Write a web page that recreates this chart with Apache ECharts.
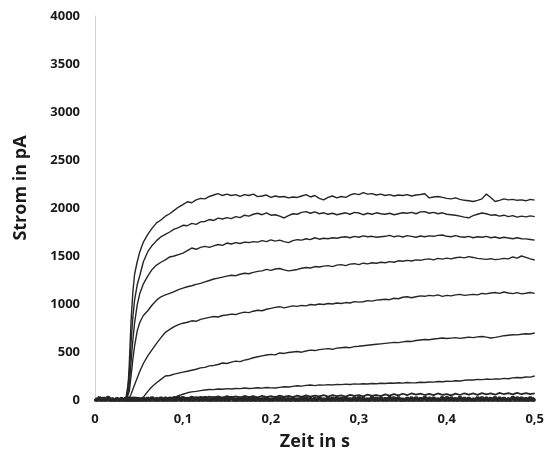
<!DOCTYPE html>
<html>
<head>
<meta charset="utf-8">
<script src="https://cdn.jsdelivr.net/npm/echarts@6/dist/echarts.min.js"></script>
<style>
  html, body { margin: 0; padding: 0; background: #fff; }
  #chart { width: 547px; height: 463px; }
</style>
</head>
<body>
<div id="chart"></div>
<script>
// Zeitpunkte (s)
var zeit = [
  0, 0.005, 0.01, 0.015, 0.02, 0.025, 0.03, 0.035, 0.037, 0.039,
  0.041, 0.043, 0.045, 0.048, 0.051, 0.055, 0.06, 0.065, 0.07, 0.075,
  0.08, 0.085, 0.09, 0.095, 0.1, 0.105, 0.11, 0.115, 0.12, 0.125,
  0.13, 0.135, 0.14, 0.145, 0.15, 0.155, 0.16, 0.165, 0.17, 0.175,
  0.18, 0.185, 0.19, 0.195, 0.2, 0.205, 0.21, 0.215, 0.22, 0.225,
  0.23, 0.235, 0.24, 0.245, 0.25, 0.255, 0.26, 0.265, 0.27, 0.275,
  0.28, 0.285, 0.29, 0.295, 0.3, 0.305, 0.31, 0.315, 0.32, 0.325,
  0.33, 0.335, 0.34, 0.345, 0.35, 0.355, 0.36, 0.365, 0.37, 0.375,
  0.38, 0.385, 0.39, 0.395, 0.4, 0.405, 0.41, 0.415, 0.42, 0.425,
  0.43, 0.435, 0.44, 0.445, 0.45, 0.455, 0.46, 0.465, 0.47, 0.475,
  0.48, 0.485, 0.49, 0.495, 0.5
];

// Stromspuren (pA), von oben nach unten
var spur1 = [
  6, -12, 9, -5, 11, -8, 4, -3, 40, 380,
  820, 1120, 1310, 1440, 1545, 1645, 1725, 1790, 1845, 1875,
  1915, 1940, 1975, 2010, 2035, 2065, 2055, 2085, 2100, 2095,
  2120, 2135, 2150, 2130, 2145, 2130, 2140, 2120, 2140, 2130,
  2145, 2118, 2125, 2135, 2110, 2125, 2115, 2120, 2105, 2115,
  2110, 2125, 2140, 2115, 2130, 2100, 2085, 2110, 2125, 2105,
  2120, 2110, 2135, 2150, 2140, 2160, 2145, 2150, 2135, 2145,
  2130, 2140, 2125, 2135, 2130, 2140, 2125, 2135, 2140, 2148,
  2105, 2115, 2120, 2110, 2100, 2095, 2105, 2090, 2080, 2075,
  2068, 2080, 2095, 2145, 2110, 2068, 2080, 2095, 2085, 2090,
  2080, 2085, 2075, 2090, 2082
];
var spur2 = [
  -8, 10, -4, 7, -10, 5, -6, 8, 20, 250,
  600, 860, 1040, 1200, 1300, 1440, 1545, 1610, 1660, 1700,
  1725, 1750, 1780, 1795, 1820, 1815, 1840, 1830, 1855, 1860,
  1880, 1870, 1895, 1885, 1900, 1890, 1910, 1900, 1925, 1915,
  1935, 1945, 1930, 1950, 1925, 1930, 1915, 1896, 1920, 1940,
  1935, 1955, 1962, 1945, 1960, 1940, 1950, 1935, 1945, 1930,
  1940, 1950, 1935, 1955, 1948, 1930, 1945, 1935, 1950, 1940,
  1935, 1945, 1930, 1940, 1950, 1945, 1955, 1940, 1960, 1962,
  1945, 1955, 1940, 1950, 1935, 1930, 1925, 1915, 1905, 1898,
  1920, 1935, 1948, 1940, 1925, 1930, 1915, 1925, 1910, 1920,
  1905, 1915, 1908, 1918, 1910
];
var spur3 = [
  4, -9, 12, -6, 3, -11, 7, -2, 15, 150,
  400, 620, 800, 990, 1110, 1210, 1290, 1360, 1405, 1435,
  1460, 1490, 1500, 1515, 1530, 1555, 1583, 1570, 1590, 1600,
  1590, 1605, 1620, 1610, 1635, 1625, 1640, 1630, 1645, 1640,
  1650, 1645, 1660, 1650, 1668, 1655, 1665, 1650, 1640, 1660,
  1670, 1665, 1680, 1670, 1690, 1675, 1685, 1680, 1690, 1685,
  1695, 1700, 1690, 1705, 1695, 1710, 1700, 1705, 1695, 1700,
  1705, 1715, 1700, 1710, 1698, 1712, 1705, 1695, 1708, 1700,
  1710, 1705, 1715, 1719, 1705, 1700, 1712, 1700, 1695, 1705,
  1690, 1700, 1695, 1705, 1690, 1698, 1685, 1695, 1688, 1680,
  1690, 1680, 1678, 1672, 1665
];
var spur4 = [
  -5, 8, -10, 6, -3, 9, -7, 4, 10, 90,
  250, 420, 560, 720, 810, 880, 930, 990, 1040, 1075,
  1095, 1110, 1130, 1150, 1165, 1180, 1190, 1205, 1215, 1230,
  1245, 1260, 1270, 1280, 1290, 1300, 1295, 1310, 1320, 1315,
  1330, 1340, 1345, 1360, 1350, 1365, 1370, 1355, 1345, 1352,
  1360, 1372, 1380, 1375, 1390, 1385, 1395, 1400, 1390, 1405,
  1410, 1400, 1415, 1420, 1410, 1425, 1418, 1430, 1425, 1435,
  1430, 1441, 1435, 1450, 1445, 1455, 1448, 1460, 1455, 1465,
  1470, 1460, 1475, 1468, 1478, 1470, 1482, 1488, 1480, 1493,
  1485, 1475, 1470, 1465, 1472, 1462, 1468, 1475, 1470, 1490,
  1478, 1500, 1485, 1470, 1458
];
var spur5 = [
  7, -6, 3, -9, 10, -4, 8, -7, 5, 20,
  60, 110, 160, 230, 300, 380, 460, 525, 590, 650,
  705, 735, 765, 785, 800, 810, 825, 820, 840, 850,
  860, 870, 865, 880, 885, 895, 890, 905, 915, 910,
  925, 935, 930, 945, 955, 965, 972, 960, 970, 980,
  975, 985, 980, 995, 990, 1000, 995, 1005, 1000, 1010,
  1005, 1015, 1010, 1025, 1020, 1024, 1035, 1030, 1040, 1045,
  1050, 1045, 1060, 1055, 1070, 1076, 1065, 1075, 1085, 1080,
  1090, 1085, 1095, 1080, 1090, 1085, 1095, 1100, 1090, 1095,
  1100, 1095, 1110, 1105, 1115, 1120, 1110, 1125, 1115, 1108,
  1118, 1105, 1112, 1120, 1111
];
var spur6 = [
  -4, 6, -8, 9, -5, 7, -3, 6, -6, 4,
  -5, 8, -4, 6, 10, 30, 90, 140, 180, 215,
  250, 255, 270, 280, 290, 300, 310, 320, 335, 340,
  355, 360, 370, 385, 380, 395, 405, 400, 415, 425,
  440, 450, 460, 469, 475, 470, 490, 485, 495, 500,
  505, 498, 510, 520, 515, 525, 530, 535, 528, 540,
  545, 550, 545, 556, 560, 565, 570, 575, 580, 585,
  590, 595, 600, 598, 605, 612, 610, 620, 625, 630,
  628, 635, 640, 646, 640, 645, 650, 642, 648, 655,
  650, 658, 662, 655, 646, 652, 660, 670, 675, 680,
  678, 685, 690, 688, 698
];
var spur7 = [
  5, -7, 8, -4, 6, -9, 3, -5, 8, -6,
  7, -4, 9, -3, 6, -8, 5, -6, 10, 4,
  8, 15, 25, 45, 60, 75, 85, 90, 98, 104,
  110, 108, 115, 112, 118, 115, 120, 118, 125, 120,
  122, 128, 124, 130, 126, 125, 132, 138, 135, 142,
  148, 145, 152, 156, 150, 158, 155, 160, 157, 162,
  160, 165, 162, 168, 165, 170, 167, 172, 170, 175,
  172, 177, 174, 180, 176, 182, 178, 180, 185, 182,
  188, 186, 192, 190, 196, 194, 200, 198, 205, 210,
  208, 215, 212, 218, 215, 220, 218, 225, 222, 230,
  235, 232, 240, 238, 250
];
var spur8 = [
  10, -18, 15, -12, 20, -15, 12, -20, 18, -10,
  15, -12, 20, -8, 18, -15, 22, -10, 25, 5,
  28, 12, 32, 18, 30, 15, 35, 20, 33, 22,
  36, 25, 38, 22, 40, 28, 37, 24, 42, 30,
  40, 26, 44, 30, 41, 28, 45, 32, 43, 30,
  46, 33, 48, 35, 45, 38, 50, 36, 52, 40,
  48, 35, 54, 42, 50, 38, 56, 44, 52, 40,
  58, 45, 62, 48, 65, 50, 70, 55, 66, 52,
  64, 50, 68, 54, 62, 48, 66, 52, 70, 56,
  68, 54, 72, 58, 70, 55, 74, 60, 72, 58,
  75, 60, 72, 62, 70
];
var spur9 = [
  -20, 25, -15, 30, -25, 18, -28, 22, -18, 26,
  -22, 28, -16, 24, -30, 20, -24, 27, -19, 23,
  -26, 21, -17, 29, -23, 19, -27, 25, -20, 30,
  -18, 26, -29, 22, -21, 28, -16, 24, -25, 20,
  -28, 23, -19, 27, -22, 30, -17, 21, -26, 25,
  -20, 29, -24, 18, -27, 26, -15, 22, -29, 24,
  -21, 27, -18, 25, -30, 20, -23, 28, -16, 23,
  -25, 30, -19, 26, -22, 21, -28, 24, -17, 29,
  -24, 22, -20, 28, -26, 25, -18, 30, -23, 20,
  -29, 26, -21, 23, -19, 28, -25, 22, -27, 31,
  -22, 24, -28, 27, -20
];
var spur10 = [
  15, -30, 20, -25, 10, -35, 18, -22, 30, -28,
  12, -32, 25, -20, 16, -30, 22, -26, 14, -34,
  20, -24, 12, -30, 26, -18, 15, -33, 22, -25,
  10, -28, 24, -22, 18, -35, 13, -27, 21, -20,
  25, -31, 16, -24, 11, -29, 23, -19, 17, -33,
  14, -26, 27, -21, 19, -34, 12, -28, 24, -23,
  20, -30, 15, -25, 28, -20, 13, -32, 22, -27,
  17, -24, 26, -31, 11, -22, 25, -29, 18, -35,
  23, -26, 14, -33, 29, -21, 16, -28, 20, -30,
  12, -34, 27, -23, 19, -31, 24, -20, 15, -36,
  26, -25, 18, -32, 21
];

var spuren = [spur1, spur2, spur3, spur4, spur5, spur6, spur7, spur8, spur9, spur10];
// Linienbreite je Spur (Grundlinienrauschen dicker)
var breiten = [1.4, 1.4, 1.4, 1.4, 1.4, 1.4, 1.4, 1.8, 3.6, 3.6];

var myChart = echarts.init(document.getElementById("chart"));

var labelStyle = {
  color: "#1a1a1a",
  fontFamily: "Open Sans",
  fontWeight: "bold",
  fontSize: 13,
};

var option = {
  animation: false,
  backgroundColor: "#fff",
  grid: {
    left: 95,
    right: 10,
    top: 16,
    bottom: 63,
  },
  xAxis: {
    type: "value",
    min: 0,
    max: 0.5,
    interval: 0.1,
    name: "Zeit in s",
    nameLocation: "middle",
    nameGap: 33,
    nameTextStyle: {
      color: "#1a1a1a",
      fontFamily: "Open Sans",
      fontWeight: "bold",
      fontSize: 18,
    },
    axisLine: { show: true, lineStyle: { color: "#d0d0d0" } },
    axisTick: { show: false },
    splitLine: { show: false },
    axisLabel: Object.assign({
      margin: 13,
      formatter: function (v) {
        return String(Math.round(v * 10) / 10).replace(".", ",");
      },
    }, labelStyle),
  },
  yAxis: {
    type: "value",
    min: 0,
    max: 4000,
    interval: 500,
    name: "Strom in pA",
    nameLocation: "middle",
    nameGap: 65,
    nameTextStyle: {
      color: "#1a1a1a",
      fontFamily: "Open Sans",
      fontWeight: "bold",
      fontSize: 18,
      padding: [0, 0, 0, 40],
    },
    axisLine: { show: true, lineStyle: { color: "#d0d0d0" } },
    axisTick: { show: false },
    splitLine: { show: false },
    axisLabel: Object.assign({
      margin: 15,
      formatter: function (v) {
        return String(v);
      },
    }, labelStyle),
  },
  series: spuren.map(function (werte, k) {
    return {
      name: "Spur " + (k + 1),
      type: "line",
      showSymbol: false,
      symbol: "none",
      silent: true,
      lineStyle: { color: "#262626", width: breiten[k] },
      data: zeit.map(function (t, i) {
        return [t, werte[i]];
      }),
    };
  }),
};
myChart.setOption(option);
</script>
</body>
</html>
